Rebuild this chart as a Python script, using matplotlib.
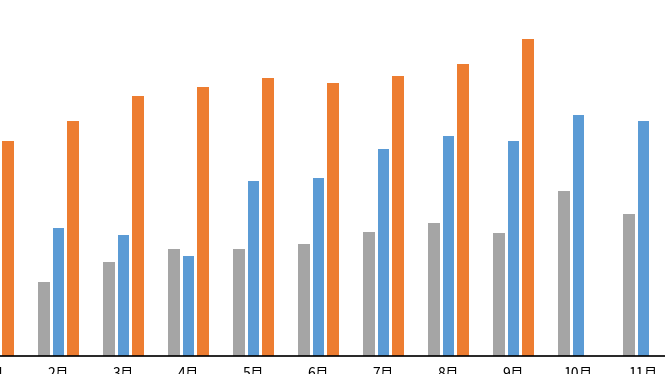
import numpy as np
import matplotlib.pyplot as plt
import matplotlib.transforms as mtransforms

plt.rcParams['font.family'] = ['Noto Sans CJK SC', 'DejaVu Sans']

months = ['1月', '2月', '3月', '4月', '5月', '6月', '7月', '8月', '9月', '10月', '11月']
gray_vals = [60, 74, 94, 107, 107, 112, 124, 133, 123, 165, 142]
blue_vals = [110, 128, 121, 100, 175, 178, 207, 220, 215, 241, 235]
orange_vals = [215, 235, 260, 269, 278, 273, 280, 292, 317, np.nan, np.nan]

x = np.arange(len(months))
w = 0.17
off = 0.223

fig = plt.figure(figsize=(6.65, 3.74), dpi=100)
ax = fig.add_axes([0, 18/374, 1, 356/374])
ax.bar(x - off, gray_vals, w, color='#A5A5A5')
ax.bar(x, blue_vals, w, color='#5B9BD5')
ax.bar(x + off, orange_vals, w, color='#ED7D31')

ax.set_xticks([])
ax.set_yticks([])
ax.set_xlim(6.5/65, 671.5/65)
ax.set_ylim(0, 356)

# month labels as text so the first one still shows at the cut edge
trans = mtransforms.offset_copy(ax.get_xaxis_transform(), fig=fig, y=-8, units='points')
for xi, m in zip(x, months):
    ax.text(xi, 0, m, transform=trans, ha='center', va='top', fontsize=10, clip_on=False)

for s in ['top', 'left', 'right']:
    ax.spines[s].set_visible(False)
ax.spines['bottom'].set_linewidth(1.2)
ax.spines['bottom'].set_color('black')

fig.savefig('out.png', dpi=100)
